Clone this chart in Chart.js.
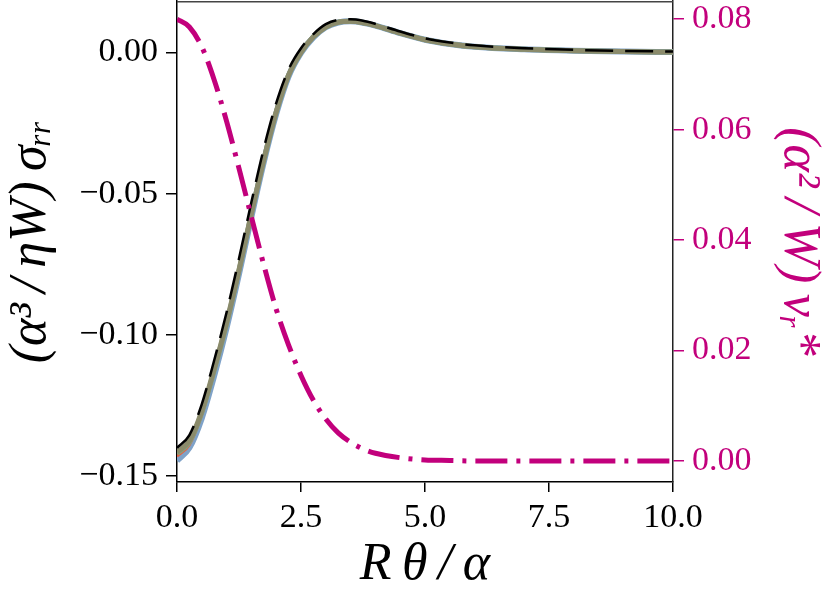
<!DOCTYPE html>
<html>
<head>
<meta charset="utf-8">
<script src="https://cdn.jsdelivr.net/npm/chart.js@4"></script>
<style>
    html, body { margin: 0; padding: 0; background: #fff; }
    #wrap { width: 830px; height: 598px; }
</style>
</head>
<body>
<div id="wrap"><canvas id="stressChart" width="830" height="598"></canvas></div>
<script>
// Data
const thetaVals = [0, 0.25, 0.5, 0.75, 1.0, 1.25, 1.5, 1.75, 2.0, 2.25, 2.5, 2.75, 3.0, 3.25, 3.5, 3.75, 4.0, 4.5, 5.0, 5.5, 6.0, 7.0, 8.0, 9.0, 10.0];

const sigmaBlue   = [-0.1445, -0.1400, -0.1295, -0.1145, -0.0975, -0.0785, -0.0582, -0.0388, -0.0218, -0.0085, -0.0002, 0.0053, 0.0089, 0.0106, 0.0110, 0.0105, 0.0095, 0.0068, 0.0045, 0.0030, 0.0020, 0.0011, 0.0006, 0.0003, 0.0001];
const sigmaRed    = [-0.1430, -0.1390, -0.1285, -0.1135, -0.0967, -0.0777, -0.0576, -0.0384, -0.0214, -0.0082, 0.0000, 0.0054, 0.0089, 0.0106, 0.0110, 0.0105, 0.0095, 0.0068, 0.0045, 0.0030, 0.0020, 0.0011, 0.0006, 0.0003, 0.0001];
const sigmaGreen  = [-0.1420, -0.1380, -0.1275, -0.1125, -0.0960, -0.0772, -0.0572, -0.0381, -0.0212, -0.0081, 0.0000, 0.0055, 0.0090, 0.0107, 0.0110, 0.0105, 0.0095, 0.0068, 0.0045, 0.0030, 0.0020, 0.0011, 0.0006, 0.0003, 0.0001];
const sigmaOlive  = [-0.1415, -0.1375, -0.1270, -0.1120, -0.0955, -0.0770, -0.0570, -0.0380, -0.0210, -0.0080, 0.0000, 0.0055, 0.0090, 0.0107, 0.0110, 0.0105, 0.0095, 0.0068, 0.0045, 0.0030, 0.0020, 0.0011, 0.0006, 0.0003, 0.0001];
const sigmaDashed = [-0.1400, -0.1355, -0.1245, -0.1090, -0.0920, -0.0730, -0.0530, -0.0340, -0.0180, -0.0060, 0.0015, 0.0065, 0.0100, 0.0115, 0.0117, 0.0112, 0.0101, 0.0074, 0.0050, 0.0035, 0.0025, 0.0015, 0.0009, 0.0005, 0.0003];

const velocityVals = [0.0800, 0.0786, 0.0750, 0.0690, 0.0615, 0.0530, 0.0442, 0.0355, 0.0275, 0.0210, 0.0155, 0.0110, 0.0076, 0.0051, 0.0034, 0.0022, 0.0014, 0.0006, 0.0002, 0.0001, 0.0000, 0.0000, 0.0000, 0.0000, 0.0000];

const xTicks = [0, 2.5, 5, 7.5, 10];
const leftTicks = [-0.15, -0.10, -0.05, 0.00];
const rightTicks = [0.00, 0.02, 0.04, 0.06, 0.08];

const MAGENTA = '#c2007c';
const SERIF = "'Liberation Serif', 'DejaVu Serif', serif";

function pairs(ys) {
    return thetaVals.map((x, i) => ({ x: x, y: ys[i] }));
}

function fmtMinus(v, digits) {
    const s = Math.abs(v).toFixed(digits);
    return (v < -1e-9 ? '\u2212' : '') + s;
}

// fixed axis sizes, no automatic edge padding
function fixSize(size, horizontal) {
    return (s) => {
        if (horizontal) s.height = size; else s.width = size;
        s.paddingTop = 0;
        s.paddingBottom = 0;
        s.paddingLeft = 0;
        s.paddingRight = 0;
    };
}

// frame on top edge of the plot
const framePlugin = {
    id: 'frame',
    afterDatasetsDraw(chart) {
        const { ctx, chartArea: a } = chart;
        ctx.save();
        ctx.strokeStyle = '#444';
        ctx.lineWidth = 1.5;
        ctx.beginPath();
        ctx.moveTo(a.left, a.top + 0.75);
        ctx.lineTo(a.right, a.top + 0.75);
        ctx.stroke();
        ctx.restore();
    }
};

// Initialize Chart.js
function initializeChart() {
    const ctx = document.getElementById('stressChart').getContext('2d');

    const solid = (data, color, width) => ({
        data: pairs(data),
        borderColor: color,
        borderWidth: width,
        pointRadius: 0,
        cubicInterpolationMode: 'monotone',
        yAxisID: 'y'
    });

    new Chart(ctx, {
        type: 'line',
        data: {
            datasets: [
                {
                    data: pairs(velocityVals),
                    borderColor: MAGENTA,
                    borderWidth: 5,
                    borderDash: [32, 9, 4, 9],
                    borderCapStyle: 'butt',
                    pointRadius: 0,
                    cubicInterpolationMode: 'monotone',
                    yAxisID: 'y1'
                },
                {
                    data: pairs(sigmaDashed),
                    borderColor: '#000',
                    borderWidth: 2.5,
                    borderDash: [28, 12],
                    pointRadius: 0,
                    cubicInterpolationMode: 'monotone',
                    yAxisID: 'y'
                },
                solid(sigmaOlive, '#8b8b6b', 5),
                solid(sigmaGreen, '#86a07e', 5),
                solid(sigmaRed, '#e8603e', 2.5),
                solid(sigmaBlue, '#7fa2c8', 6)
            ]
        },
        options: {
            responsive: false,
            animation: false,
            layout: { padding: { top: 1, left: 0, right: 0, bottom: 0 } },
            plugins: {
                legend: { display: false },
                tooltip: { enabled: false }
            },
            scales: {
                x: {
                    type: 'linear',
                    min: 0,
                    max: 10,
                    afterFit: fixSize(116, true),
                    afterBuildTicks: (s) => { s.ticks = xTicks.map(v => ({ value: v })); },
                    border: { display: true, color: '#000', width: 1.5 },
                    grid: { drawOnChartArea: false, drawTicks: true, tickLength: 10, color: '#000', lineWidth: 1.5 },
                    ticks: {
                        color: '#000',
                        font: { family: SERIF, size: 34 },
                        padding: 6,
                        maxRotation: 0,
                        callback: (v) => Number(v).toFixed(1)
                    },
                    title: {
                        display: true,
                        text: 'R\u2009\u03b8\u2009/\u2009\u03b1',
                        color: '#000',
                        font: { family: SERIF, size: 52, style: 'italic' },
                        padding: { top: 0, bottom: 1 }
                    }
                },
                y: {
                    type: 'linear',
                    position: 'left',
                    min: -0.1521,
                    max: 0.0182,
                    afterFit: fixSize(177, false),
                    afterBuildTicks: (s) => { s.ticks = leftTicks.map(v => ({ value: v })); },
                    border: { display: true, color: '#000', width: 1.5 },
                    grid: { drawOnChartArea: false, drawTicks: true, tickLength: 11, color: '#000', lineWidth: 1.5 },
                    ticks: {
                        color: '#000',
                        font: { family: SERIF, size: 34 },
                        padding: 8,
                        callback: (v) => fmtMinus(v, 2)
                    },
                    title: {
                        display: true,
                        text: '(\u03b1\u00b3\u2009/\u2009\u03b7W)\u2009\u03c3\u1d63\u1d63',
                        color: '#000',
                        font: { family: SERIF, size: 52, style: 'italic' },
                        padding: { top: 0, bottom: 0 }
                    }
                },
                y1: {
                    type: 'linear',
                    position: 'right',
                    min: -0.0038,
                    max: 0.0833,
                    afterFit: fixSize(157, false),
                    afterBuildTicks: (s) => { s.ticks = rightTicks.map(v => ({ value: v })); },
                    border: { display: true, color: '#222', width: 1.5 },
                    grid: { drawOnChartArea: false, drawTicks: true, tickLength: 11, color: MAGENTA, lineWidth: 1.5 },
                    ticks: {
                        color: MAGENTA,
                        font: { family: SERIF, size: 34 },
                        padding: 8,
                        callback: (v) => fmtMinus(v, 2)
                    },
                    title: {
                        display: true,
                        text: '(\u03b1\u00b2\u2009/\u2009W)\u2009v\u1d63*',
                        color: MAGENTA,
                        font: { family: SERIF, size: 52, style: 'italic' },
                        padding: { top: 0, bottom: 0 }
                    }
                }
            }
        },
        plugins: [framePlugin]
    });
}

document.addEventListener('DOMContentLoaded', () => {
    initializeChart();
});
</script>
</body>
</html>
